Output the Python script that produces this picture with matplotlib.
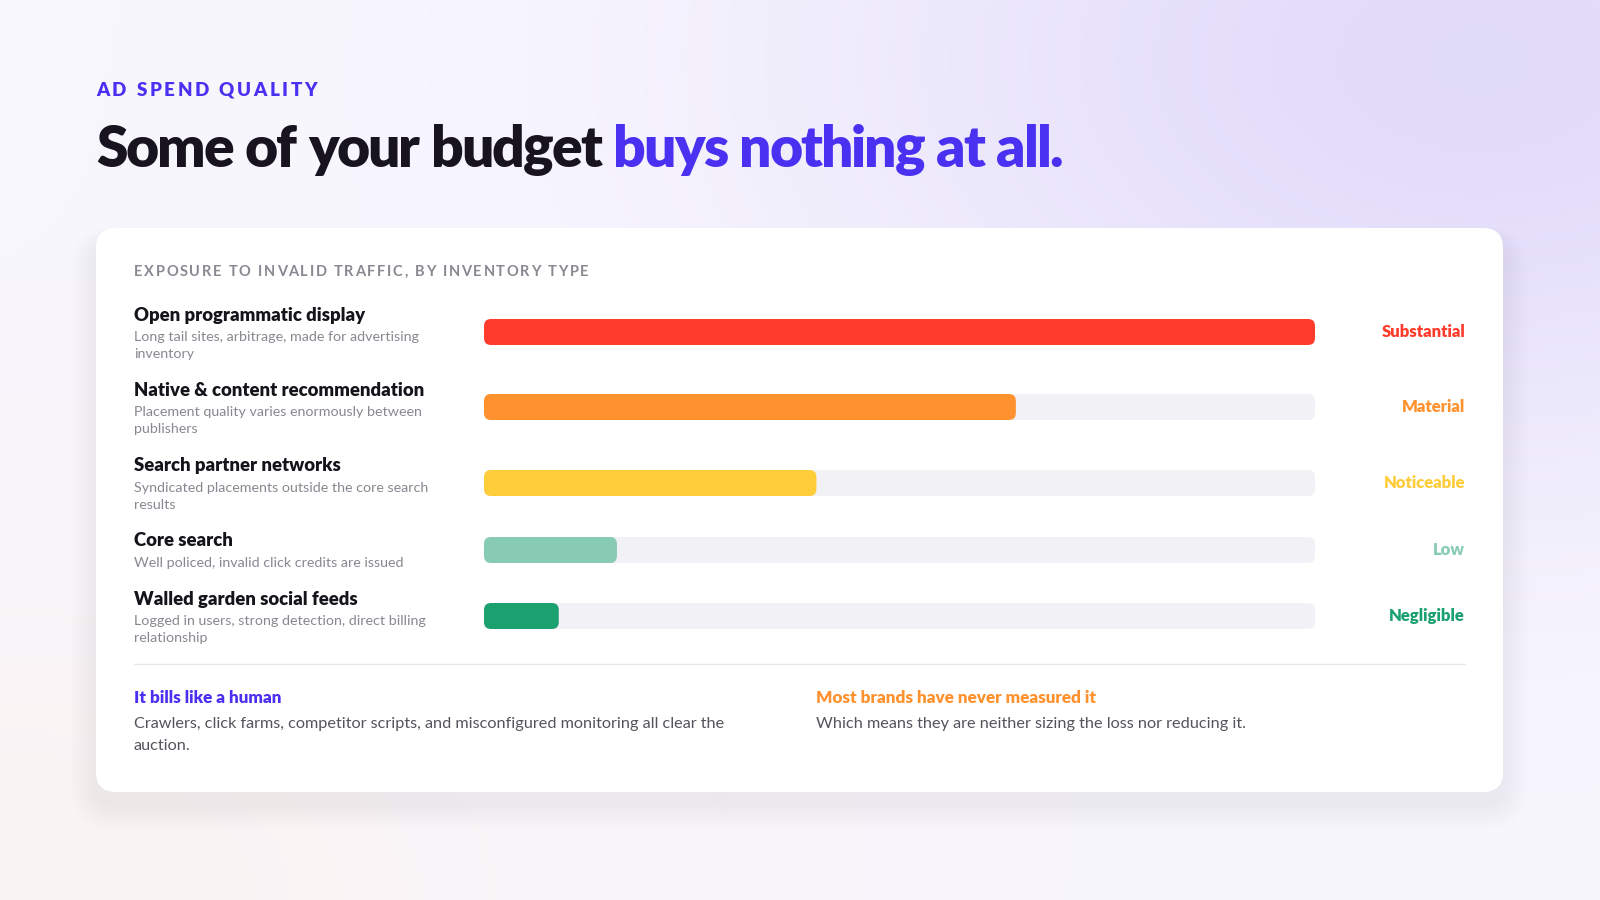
import numpy as np
import matplotlib
matplotlib.use("Agg")
import matplotlib.pyplot as plt
from matplotlib.patches import FancyBboxPatch

# data
categories = ["Open programmatic display", "Native & content recommendation",
              "Search partner networks", "Core search", "Walled garden social feeds"]
descriptions = ["Long tail sites, arbitrage, made for advertising\ninventory",
                "Placement quality varies enormously between\npublishers",
                "Syndicated placements outside the core search\nresults",
                "Well policed, invalid click credits are issued",
                "Logged in users, strong detection, direct billing\nrelationship"]
exposure = [100, 64, 40, 16, 9]
levels = ["Substantial", "Material", "Noticeable", "Low", "Negligible"]

level_colors = ["#FF3B2B", "#FF922F", "#FFCC3A", "#88CBB4", "#1BA070"]
row_y = [332, 407, 483, 550, 616]
BLUE = "#4A30F0"
ORANGE = "#FF922F"
FONT = "Lato"

fig = plt.figure(figsize=(16, 9), dpi=100)
ax = fig.add_axes([0, 0, 1, 1])
ax.set_xlim(0, 1600)
ax.set_ylim(900, 0)
ax.axis("off")

# background gradient
yy, xx = np.mgrid[0:900, 0:1600]
img = np.ones((900, 1600, 3)) * np.array([0.975, 0.97, 0.995])
d = np.exp(-(((xx - 1480) / 650.0) ** 2 + ((yy - 60) / 420.0) ** 2))[..., None]
img = img * (1 - 0.85 * d) + np.array([0.87, 0.84, 0.98]) * 0.85 * d
d2 = np.exp(-(((xx - 0) / 650.0) ** 2 + ((yy - 900) / 380.0) ** 2))[..., None]
img = img * (1 - 0.8 * d2) + np.array([0.985, 0.95, 0.945]) * 0.8 * d2
ax.imshow(img, extent=[0, 1600, 900, 0], aspect="auto", zorder=0)

# card with soft shadow
for k in range(1, 14):
    ax.add_patch(FancyBboxPatch((96 - k * 2, 240 - k * 1.0), 1407 + k * 4, 564 + k * 3,
                                boxstyle="round,pad=0,rounding_size=%d" % (20 + k * 2),
                                fc="#6050a0", ec="none", alpha=0.004, zorder=1))
ax.add_patch(FancyBboxPatch((96, 228), 1407, 564, boxstyle="round,pad=0,rounding_size=20",
                            fc="white", ec="none", zorder=2))

renderer = fig.canvas.get_renderer()


def tracked(x, y, s, spacing, **kw):
    for ch in s:
        if ch == " ":
            w = kw["fontsize"] * 100 / 72 * 0.26
        else:
            t = ax.text(x, y, ch, **kw)
            w = t.get_window_extent(renderer).width
        x += w + spacing
    return x


tracked(96, 90, "AD SPEND QUALITY", 2.6, fontsize=13.5, fontweight="heavy", color=BLUE,
        va="center", family=FONT, zorder=3)
x_end = tracked(96, 150, "Some of your budget ", -2.0, fontsize=41, fontweight="heavy",
                color="#17131F", va="center", family=FONT, zorder=3)
tracked(x_end, 150, "buys nothing at all.", -2.0, fontsize=41, fontweight="heavy",
        color=BLUE, va="center", family=FONT, zorder=3)

tracked(134, 272, "EXPOSURE TO INVALID TRAFFIC, BY INVENTORY TYPE", 1.7, fontsize=10.5,
        fontweight="bold", color="#8A8890", va="center", family=FONT, zorder=3)

# bar axes
bx = fig.add_axes([484 / 1600, 0, 831 / 1600, 1])
bx.set_xlim(0, 100)
bx.set_ylim(900, 0)
bx.axis("off")
bx.patch.set_alpha(0)
asp = 831 / 100.0
r = 7 / asp
for i, (cat, desc, val, lab) in enumerate(zip(categories, descriptions, exposure, levels)):
    y = row_y[i]
    nlines = desc.count("\n") + 1
    ty = y - 17 if nlines == 2 else y - 9
    ax.text(134, ty, cat, fontsize=13.3, fontweight="heavy", color="#16141A", va="center",
            family=FONT, zorder=3)
    ax.text(134, ty + 16, desc, fontsize=10.3, color="#8A8790", va="top", family=FONT,
            linespacing=1.5, zorder=3)
    bx.add_patch(FancyBboxPatch((0, y - 13), 100, 26,
                                boxstyle="round,pad=0,rounding_size=%f" % r,
                                mutation_aspect=asp, fc="#F2F1F5", ec="none", zorder=3))
    bx.add_patch(FancyBboxPatch((0, y - 13), val, 26,
                                boxstyle="round,pad=0,rounding_size=%f" % r,
                                mutation_aspect=asp, fc=level_colors[i], ec="none", zorder=4))
    ax.text(1465, y, lab, fontsize=12, fontweight="heavy", color=level_colors[i],
            ha="right", va="center", family=FONT, zorder=3)

ax.plot([134, 1465], [664, 664], color="#E8E6EC", lw=1, zorder=3)

ax.text(134, 698, "It bills like a human", fontsize=12.3, fontweight="heavy", color=BLUE,
        va="center", family=FONT, zorder=3)
ax.text(134, 717, "Crawlers, click farms, competitor scripts, and misconfigured monitoring all clear the\nauction.",
        fontsize=11.7, color="#55535B", va="top", family=FONT, linespacing=1.7, zorder=3)
ax.text(816, 698, "Most brands have never measured it", fontsize=12.3, fontweight="heavy",
        color=ORANGE, va="center", family=FONT, zorder=3)
ax.text(816, 717, "Which means they are neither sizing the loss nor reducing it.",
        fontsize=11.7, color="#55535B", va="top", family=FONT, linespacing=1.7, zorder=3)

fig.savefig("out.png", dpi=100)
